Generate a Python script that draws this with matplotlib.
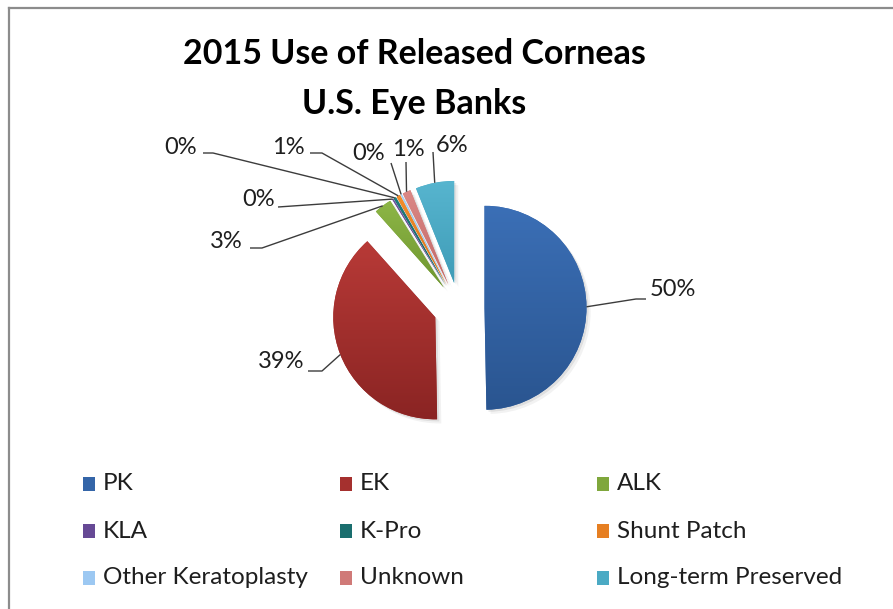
import numpy as np
import matplotlib
matplotlib.use("Agg")
import matplotlib.pyplot as plt
from matplotlib import patheffects as pe
from matplotlib.colors import to_rgb
from matplotlib.patches import Rectangle

# ---- data -------------------------------------------------------------
categories = ["PK", "EK", "ALK", "KLA", "K-Pro", "Shunt Patch",
              "Other Keratoplasty", "Unknown", "Long-term Preserved"]
shares = [49.7, 38.7, 2.8, 0.2, 0.4, 0.6, 0.2, 1.3, 6.1]   # percent of released corneas

# slice colours: lighter at the top, darker at the bottom
top_colors = ["#3B6FB6", "#B83A37", "#8DB646", "#7152A2", "#1F7C7C",
              "#F38E2C", "#A8D2F8", "#DB8886", "#57B5CF"]
bottom_colors = ["#2A5590", "#8A2423", "#6E9530", "#5B3F88", "#145C5C",
                 "#D2701A", "#8CB8E5", "#C26866", "#3F9CB7"]
key_colors = ["#3465A8", "#A5302E", "#7FA73C", "#664995", "#1A6E6E",
              "#E67F22", "#9CC8F2", "#D07A78", "#4BAAC4"]

title_text = "2015 Use of Released Corneas\nU.S. Eye Banks"

# ---- figure / axes ----------------------------------------------------
W, H, DPI = 893, 609, 100
plt.rcParams["font.family"] = ["Lato", "DejaVu Sans"]
fig = plt.figure(figsize=(W / DPI, H / DPI), dpi=DPI)
fig.patch.set_facecolor("white")

CX, CY, RPX = 459, 308, 102      # pie centre (px from top-left) and radius (px)
ax = fig.add_axes([0, 0, 1, 1])
ax.set_axis_off()


def px(x, y):
    """pixel position (from top-left) -> data coordinates"""
    return ((x - CX) / RPX, (CY - y) / RPX)


wedges, _ = ax.pie(shares, explode=[0.25] * len(shares), startangle=90,
                   counterclock=False, colors=key_colors, radius=1.0,
                   center=(0, 0), wedgeprops=dict(linewidth=0))

# vertical gradient fill + soft drop shadow for every slice
for w, c_top, c_bot in zip(wedges, top_colors, bottom_colors):
    w.set_path_effects([pe.SimplePatchShadow(offset=(1.5, -1.5), shadow_rgbFace="black",
                                             alpha=0.08),
                        pe.SimplePatchShadow(offset=(3.0, -3.0), shadow_rgbFace="black",
                                             alpha=0.05),
                        pe.Normal()])
    verts = w.get_path().vertices
    x0, y0 = verts.min(axis=0)
    x1, y1 = verts.max(axis=0)
    t = np.linspace(0, 1, 256)[:, None]
    grad = (1 - t) * np.array(to_rgb(c_top)) + t * np.array(to_rgb(c_bot))
    im = ax.imshow(grad[:, None, :], extent=[x0, x1, y0, y1], origin="upper",
                   aspect="auto", interpolation="bicubic", zorder=w.get_zorder() + 0.1)
    im.set_clip_path(w)

# ---- data labels with leader lines ------------------------------------
# (label centre, leader-line bend points) in pixels
label_layout = [
    ((673, 290), [(636, 299), (646, 299)]),
    ((281, 362), [(322, 371), (308, 371)]),
    ((226, 242), [(262, 248), (250, 248)]),
    ((259, 199), [(278, 207)]),
    ((181, 147), [(213, 153), (203, 153)]),
    ((288, 147), [(322, 153), (310, 153)]),
    ((369, 153), [(391, 163)]),
    ((408, 149), [(406, 162)]),
    ((452, 145), [(433, 152)]),
]

for w, val, (tpos, bends) in zip(wedges, shares, label_layout):
    mid = np.deg2rad((w.theta1 + w.theta2) / 2)
    ox = w.center[0] + w.r * np.cos(mid)
    oy = w.center[1] + w.r * np.sin(mid)
    pts = [(ox, oy)] + [px(*b) for b in bends]
    xs, ys = zip(*pts)
    ax.plot(xs, ys, color="#3C3C3C", lw=1.0, zorder=5, solid_capstyle="butt")
    ax.text(*px(*tpos), f"{val:.0f}%", ha="center", va="center",
            fontsize=17, color="#1E1E1E", zorder=6)

# ---- title ------------------------------------------------------------
ax.text(*px(414, 79), title_text, ha="center", va="center", fontsize=24.5,
        fontweight="bold", color="black", linespacing=1.7)

# ---- legend (3 x 3 grid) ----------------------------------------------
key_x = [83, 340, 597]
row_y = [484, 531, 578]
for i, (name, col) in enumerate(zip(categories, key_colors)):
    r, c = divmod(i, 3)
    kx, ky = key_x[c], row_y[r]
    ax.add_patch(Rectangle(px(kx, ky + 7), 12 / RPX, 14 / RPX,
                           facecolor=col, edgecolor="none", zorder=5))
    ax.text(*px(kx + 20, ky), name, ha="left", va="center", fontsize=17.5,
            color="#1E1E1E", zorder=6)

# ---- chart frame (top and left edges) ----------------------------------
ax.plot([px(9, 8)[0], px(W + 5, 8)[0]], [px(9, 8)[1]] * 2,
        color="#8C8C8C", lw=1.6, zorder=7, clip_on=False)
ax.plot([px(9, 8)[0]] * 2, [px(9, 8)[1], px(9, H + 5)[1]],
        color="#8C8C8C", lw=1.6, zorder=7, clip_on=False)

ax.set_aspect("auto")
ax.set_xlim(-CX / RPX, (W - CX) / RPX)
ax.set_ylim(-(H - CY) / RPX, CY / RPX)

fig.savefig("out.png", dpi=DPI, facecolor="white")
